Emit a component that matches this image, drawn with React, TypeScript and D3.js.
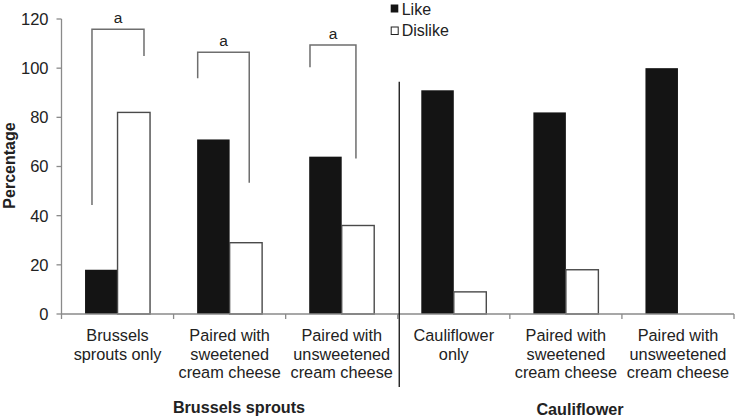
import React from "react";
import * as d3 from "d3";

const categoryLines: string[][] = [
  ["Brussels", "sprouts only"],
  ["Paired with", "sweetened", "cream cheese"],
  ["Paired with", "unsweetened", "cream cheese"],
  ["Cauliflower", "only"],
  ["Paired with", "sweetened", "cream cheese"],
  ["Paired with", "unsweetened", "cream cheese"],
];
const likeValues = [18, 71, 64, 91, 82, 100];
const dislikeValues = [82, 29, 36, 9, 18, 0];
const yTicks = [0, 20, 40, 60, 80, 100, 120];
const groupLabels = ["Brussels sprouts", "Cauliflower"];
const seriesNames = ["Like", "Dislike"];

// significance brackets (values in percentage units)
const bracketCats = [0, 1, 2];
const bracketLeftY = [44.3, 95.9, 100.4];
const bracketTopY = [115.8, 106.5, 109.4];
const bracketRightY = [104.9, 53.4, 63.3];
const bracketLeftFrac = [0.272, 0.215, 0.217];
const bracketRightFrac = [0.736, 0.675, 0.627];
const bracketLabel = "a";
const dividerTopValue = 94.5;

const W = 736;
const H = 417;
const left = 61.5;
const right = 734;
const y0 = 314;
const y120 = 19;

export default function App() {
  const idx = categoryLines.map((_, i) => String(i));
  const x = d3.scaleBand<string>().domain(idx).range([left, right]).padding(0);
  const y = d3.scaleLinear().domain([0, 120]).range([y0, y120]);
  const bw = x.bandwidth();
  const barW = 32.5;
  const axisColor = "#8a8a8a";
  const textColor = "#222";
  const font = "Liberation Sans, Arial, sans-serif";

  const boundaries = d3.range(categoryLines.length + 1).map((i) => left + i * bw);

  return (
    <svg
      width={W}
      height={H}
      style={{ position: "absolute", left: 0, top: 0, background: "#fff" }}
      fontFamily={font}
    >
      <rect x={0} y={0} width={W} height={H} fill="#fff" />
      {/* bars */}
      {idx.map((k, i) => {
        const c = (x(k) as number) + bw / 2;
        return (
          <g key={k}>
            <rect
              x={c - barW}
              y={y(likeValues[i])}
              width={barW}
              height={y0 - y(likeValues[i])}
              fill="#141414"
            />
            {dislikeValues[i] > 0 && (
              <rect
                x={c}
                y={y(dislikeValues[i])}
                width={barW}
                height={y0 - y(dislikeValues[i])}
                fill="#fff"
                stroke="#4a4a4a"
                strokeWidth={1.4}
              />
            )}
          </g>
        );
      })}
      {/* y axis */}
      <line x1={left} x2={left} y1={y(120)} y2={y0} stroke={axisColor} strokeWidth={1.3} />
      {yTicks.map((t) => (
        <g key={t}>
          <line x1={left - 5} x2={left} y1={y(t)} y2={y(t)} stroke={axisColor} strokeWidth={1.3} />
          <text
            x={48.5}
            y={y(t)}
            dy="0.36em"
            textAnchor="end"
            fontSize={16.5}
            fill={textColor}
          >
            {t}
          </text>
        </g>
      ))}
      {/* x axis */}
      <line x1={left} x2={right} y1={y0} y2={y0} stroke={axisColor} strokeWidth={1.3} />
      {boundaries.map((b, i) => (
        <line key={i} x1={b} x2={b} y1={y0} y2={y0 + 5} stroke={axisColor} strokeWidth={1.3} />
      ))}
      {/* category labels */}
      {idx.map((k, i) => {
        const c = (x(k) as number) + bw / 2;
        return (
          <text key={k} x={c} textAnchor="middle" fontSize={16.3} fill={textColor}>
            {categoryLines[i].map((ln, j) => (
              <tspan key={j} x={c} y={340.7 + j * 18.8}>
                {ln}
              </tspan>
            ))}
          </text>
        );
      })}
      {/* y title */}
      <text
        transform={`translate(14.5,165.5) rotate(-90)`}
        textAnchor="middle"
        fontSize={16}
        fontWeight="bold"
        fill={textColor}
      >
        Percentage
      </text>
      {/* group labels */}
      <text x={239} y={413} textAnchor="middle" fontSize={16.2} fontWeight="bold" fill={textColor}>
        {groupLabels[0]}
      </text>
      <text x={580} y={414.5} textAnchor="middle" fontSize={16.2} fontWeight="bold" fill={textColor}>
        {groupLabels[1]}
      </text>
      {/* divider */}
      <line
        x1={boundaries[3] + 1.5}
        x2={boundaries[3] + 1.5}
        y1={y(dividerTopValue)}
        y2={387}
        stroke="#111"
        strokeWidth={1.3}
      />
      {/* brackets */}
      {bracketCats.map((ci, i) => {
        const bx = x(String(ci)) as number;
        const lx = bx + bracketLeftFrac[i] * bw;
        const rx = bx + bracketRightFrac[i] * bw;
        const ty = y(bracketTopY[i]);
        const path = d3.path();
        path.moveTo(lx, y(bracketLeftY[i]));
        path.lineTo(lx, ty);
        path.lineTo(rx, ty);
        path.lineTo(rx, y(bracketRightY[i]));
        return (
          <g key={i}>
            <path d={path.toString()} fill="none" stroke="#6e6e6e" strokeWidth={1.5} />
            <text
              x={(lx + rx) / 2}
              y={ty - 6.5}
              textAnchor="middle"
              fontSize={15.5}
              fill={textColor}
            >
              {bracketLabel}
            </text>
          </g>
        );
      })}
      {/* legend */}
      <rect x={390.7} y={4.5} width={7.6} height={8} fill="#141414" />
      <text x={401.7} y={14.5} fontSize={16} fill={textColor}>
        {seriesNames[0]}
      </text>
      <rect x={391.2} y={27} width={7} height={7.5} fill="#fff" stroke="#222" strokeWidth={1} />
      <text x={401.7} y={36} fontSize={16} fill={textColor}>
        {seriesNames[1]}
      </text>
    </svg>
  );
}
